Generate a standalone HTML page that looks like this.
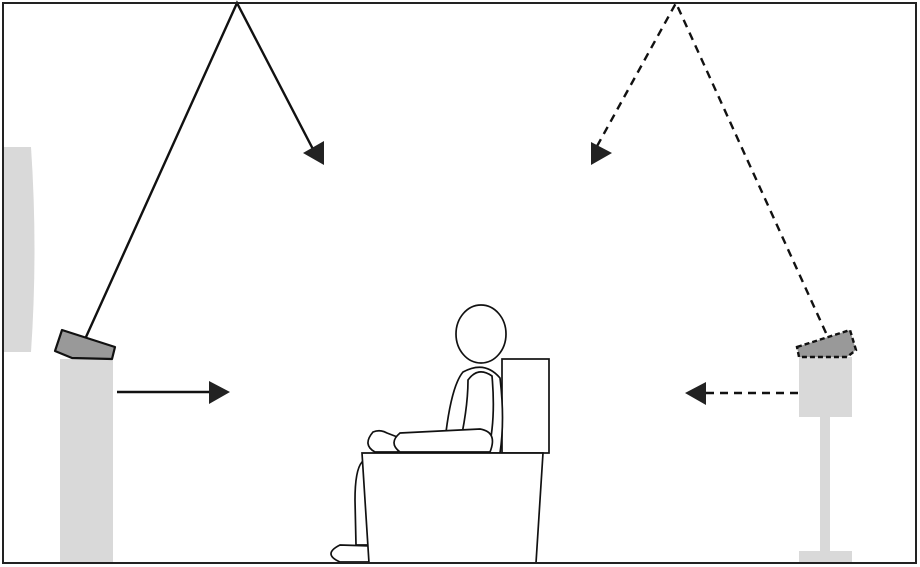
<!DOCTYPE html>
<html><head><meta charset="utf-8"><style>html,body{margin:0;padding:0;background:#fff}svg{display:block}</style></head>
<body>
<svg width="920" height="567" viewBox="0 0 920 567" xmlns="http://www.w3.org/2000/svg">
<rect x="0" y="0" width="920" height="567" fill="#fff"/>
<path d="M3,147 L31,147 Q38,250 31,352 L3,352 Z" fill="#d9d9d9"/>
<rect x="60" y="359" width="53" height="204" fill="#d9d9d9"/>
<polygon points="62,330 115,347 112,359 72,358 55,351" fill="#999" stroke="#111" stroke-width="2.2" stroke-linejoin="round"/>
<polyline points="86,337 237,3 316,155" fill="none" stroke="#111" stroke-width="2.4"/>
<polygon points="303,153 324,141 324,165" fill="#222"/>
<line x1="117" y1="392" x2="212" y2="392" stroke="#111" stroke-width="2.4"/>
<polygon points="230,392 209,381 209,404" fill="#222"/>
<rect x="799" y="357" width="53" height="60" fill="#d9d9d9"/>
<rect x="820" y="417" width="10" height="136" fill="#d9d9d9"/>
<rect x="799" y="551" width="53" height="12" fill="#d9d9d9"/>
<polygon points="797,347 850,330 856,350 847,357 799,357" fill="#999" stroke="#111" stroke-width="2.4" stroke-dasharray="5,3"/>
<polyline points="826,333 676,3 596,148" fill="none" stroke="#111" stroke-width="2.4" stroke-dasharray="8,6"/>
<polygon points="591,142 591,165 612,153" fill="#222"/>
<line x1="798" y1="393" x2="705" y2="393" stroke="#111" stroke-width="2.4" stroke-dasharray="8,6"/>
<polygon points="685,393 706,382 706,405" fill="#222"/>
<g fill="#fff" stroke="#111" stroke-width="1.7">
<rect x="502" y="359" width="47" height="94"/>
<path d="M446,432 Q452,385 463,372 Q485,360 500,378 Q505,420 500,453 L455,453 Z"/>
<path d="M458,452 Q468,410 468,380 Q478,366 492,376 Q496,420 488,452 Z"/>
<ellipse cx="481" cy="334" rx="25" ry="29"/>
<path d="M373,432 Q380,429 387,433 L400,438 L398,452 L375,452 Q362,445 373,432 Z"/>
<path d="M400,433 L480,429 Q498,432 490,452 L400,452 Q388,443 400,433 Z"/>
<path d="M362,462 Q355,470 355,500 L356,545 L369,545 L368,462 Z"/>
<path d="M340,545 L372,546 L370,562 L340,562 Q322,554 340,545 Z"/>
<polygon points="362,453 543,453 536,563 369,563"/>
</g>
<rect x="3" y="3" width="913" height="560" fill="none" stroke="#222" stroke-width="2"/>
</svg>
</body></html>
